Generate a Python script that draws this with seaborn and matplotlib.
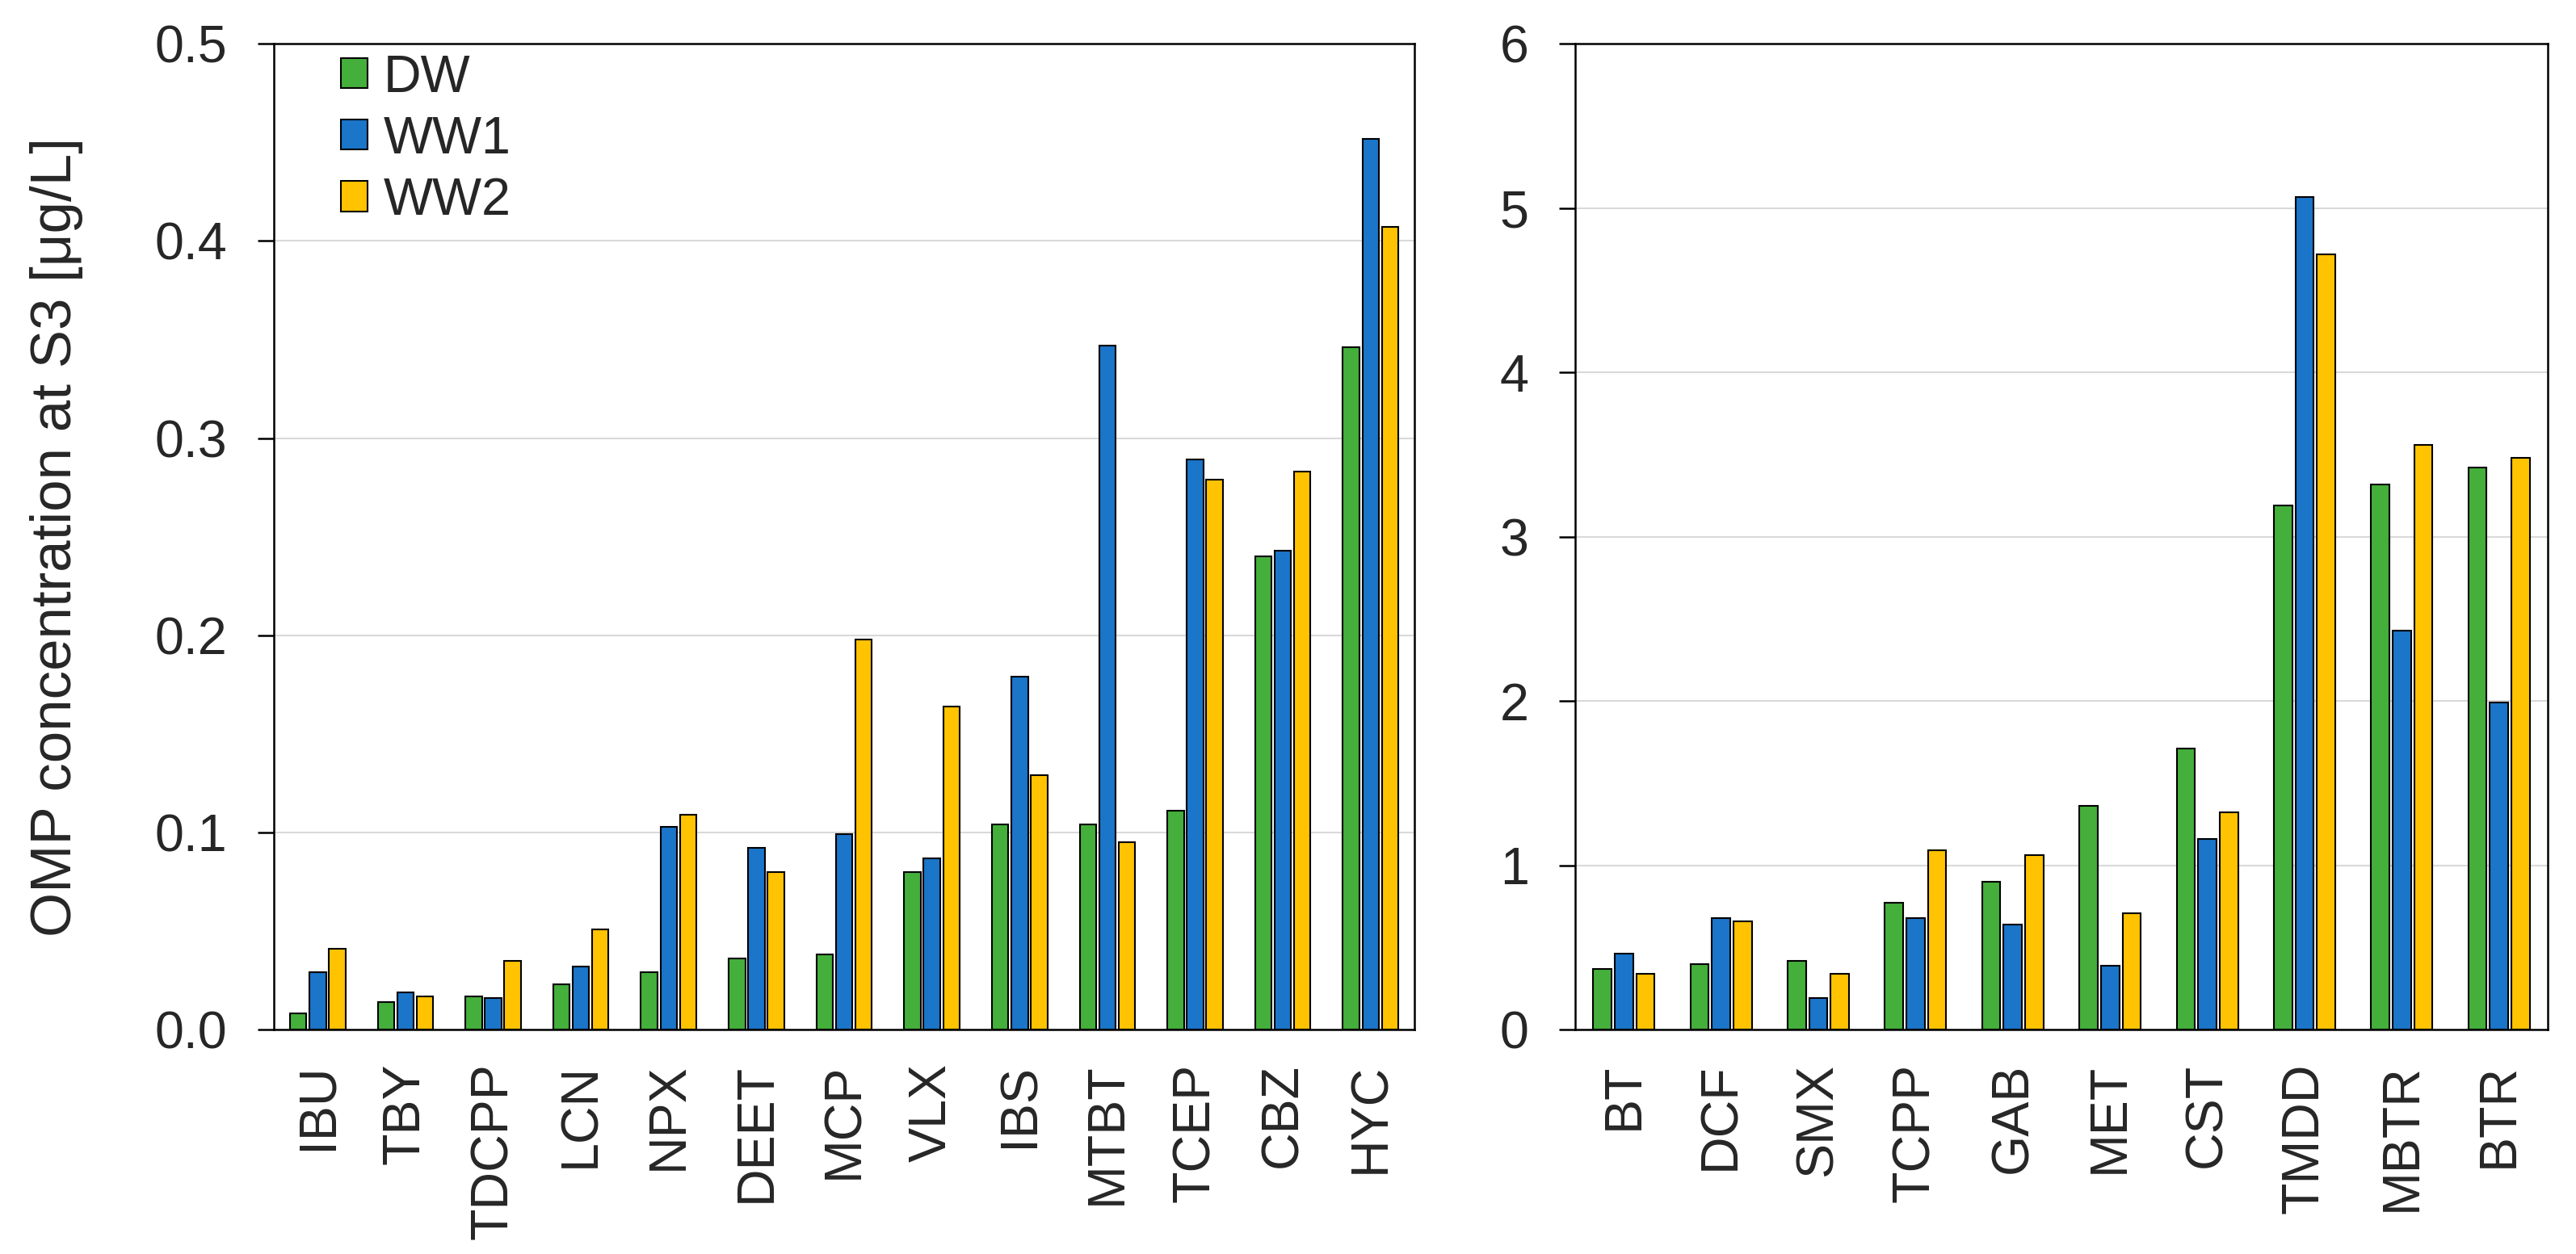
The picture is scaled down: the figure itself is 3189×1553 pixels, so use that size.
#!/usr/bin/env python3
"""OMP concentrations at S3 for DW, WW1 and WW2 (two panels)."""

import numpy as np
import pandas as pd
import matplotlib
matplotlib.use("Agg")
import matplotlib.pyplot as plt
from matplotlib.ticker import FormatStrFormatter, MultipleLocator
import seaborn as sns

# --- data ---------------------------------------------------------------
water_types = ["DW", "WW1", "WW2"]

low_compounds = ["IBU", "TBY", "TDCPP", "LCN", "NPX", "DEET", "MCP",
                 "VLX", "IBS", "MTBT", "TCEP", "CBZ", "HYC"]
low_dw = [0.008, 0.014, 0.017, 0.023, 0.029, 0.036, 0.038,
          0.080, 0.104, 0.104, 0.111, 0.240, 0.346]
low_ww1 = [0.029, 0.019, 0.016, 0.032, 0.103, 0.092, 0.099,
           0.087, 0.179, 0.347, 0.289, 0.243, 0.452]
low_ww2 = [0.041, 0.017, 0.035, 0.051, 0.109, 0.080, 0.198,
           0.164, 0.129, 0.095, 0.279, 0.283, 0.407]

high_compounds = ["BT", "DCF", "SMX", "TCPP", "GAB", "MET", "CST",
                  "TMDD", "MBTR", "BTR"]
high_dw = [0.37, 0.40, 0.42, 0.77, 0.90, 1.36, 1.71, 3.19, 3.32, 3.42]
high_ww1 = [0.46, 0.68, 0.19, 0.68, 0.64, 0.39, 1.16, 5.07, 2.43, 1.99]
high_ww2 = [0.34, 0.66, 0.34, 1.09, 1.06, 0.71, 1.32, 4.72, 3.56, 3.48]

colors = ["#44AF3B", "#1B75C9", "#FFC301"]


def to_long(compounds, dw, ww1, ww2):
    frames = []
    for name, vals in zip(water_types, [dw, ww1, ww2]):
        frames.append(pd.DataFrame({"compound": compounds,
                                    "water": name,
                                    "value": vals}))
    return pd.concat(frames, ignore_index=True)


df_low = to_long(low_compounds, low_dw, low_ww1, low_ww2)
df_high = to_long(high_compounds, high_dw, high_ww1, high_ww2)

# --- style --------------------------------------------------------------
sns.set_style("ticks")
plt.rcParams["font.family"] = ["Liberation Sans", "DejaVu Sans"]
plt.rcParams["font.size"] = 15.5
plt.rcParams["axes.linewidth"] = 0.6
plt.rcParams["xtick.major.width"] = 0.6
plt.rcParams["ytick.major.width"] = 0.6

fig = plt.figure(figsize=(3189 / 300, 1553 / 300), dpi=300)
ax1 = fig.add_axes([0.1063, 0.179, 0.4428, 0.786])
ax2 = fig.add_axes([0.6115, 0.179, 0.3775, 0.786])

bar_kw = dict(x="compound", y="value", hue="water", hue_order=water_types,
              palette=colors, width=0.665, gap=0.15, edgecolor="black",
              linewidth=0.5, saturation=1)

sns.barplot(data=df_low, ax=ax1, legend=True, **bar_kw)
sns.barplot(data=df_high, ax=ax2, legend=False, **bar_kw)

ax1.set_ylim(0, 0.5)
ax1.yaxis.set_major_locator(MultipleLocator(0.1))
ax1.yaxis.set_major_formatter(FormatStrFormatter("%.1f"))
ax2.set_ylim(0, 6)
ax2.yaxis.set_major_locator(MultipleLocator(1))

for ax, n in [(ax1, len(low_compounds)), (ax2, len(high_compounds))]:
    ax.set_xlim(-0.5, n - 0.5)
    ax.set_xlabel("")
    ax.set_ylabel("")
    ax.grid(axis="y", color="#D9D9D9", linewidth=0.5)
    ax.set_axisbelow(True)
    for side in ["top", "right", "left", "bottom"]:
        ax.spines[side].set_visible(True)
        ax.spines[side].set_color("black")
        ax.spines[side].set_linewidth(0.6)
    ax.tick_params(axis="x", length=0, pad=10, rotation=90, labelsize=15.5)
    ax.tick_params(axis="y", length=4.8, pad=9, direction="out",
                   labelsize=15.5, color="black")

# y label sits well left of the tick labels
ax1.set_ylabel("OMP concentration at S3 [μg/L]", fontsize=17)
ax1.yaxis.set_label_coords(-0.167, 0.5)

sns.move_legend(ax1, "upper left", bbox_to_anchor=(0.059, 0.99),
                frameon=False, title=None, borderpad=0, borderaxespad=0,
                handlelength=0.51, handleheight=0.51, handletextpad=0.3,
                labelspacing=0.25, fontsize=15.5)

fig.savefig("out.png", dpi=300)
